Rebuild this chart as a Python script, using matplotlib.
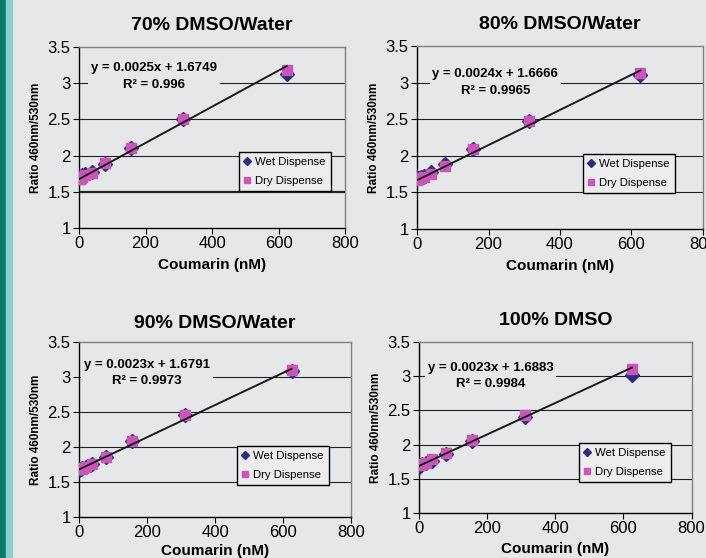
import numpy as np
import matplotlib
matplotlib.use('Agg')
import matplotlib.pyplot as plt
from matplotlib.patches import Rectangle

plt.rcParams['font.family'] = ['Liberation Sans', 'DejaVu Sans']

# coumarin dilution series (nM)
conc = [0, 2.4, 4.9, 9.8, 19.5, 39, 78, 156, 312, 625]

titles = ['70% DMSO/Water', '80% DMSO/Water', '90% DMSO/Water', '100% DMSO']

wet_70 = [1.70, 1.70, 1.71, 1.73, 1.74, 1.77, 1.89, 2.11, 2.51, 3.13]
dry_70 = [1.67, 1.68, 1.69, 1.71, 1.73, 1.76, 1.90, 2.10, 2.51, 3.18]
wet_80 = [1.69, 1.69, 1.70, 1.71, 1.72, 1.78, 1.89, 2.09, 2.47, 3.10]
dry_80 = [1.67, 1.68, 1.68, 1.70, 1.71, 1.75, 1.86, 2.09, 2.47, 3.13]
wet_90 = [1.67, 1.68, 1.69, 1.70, 1.72, 1.75, 1.85, 2.08, 2.45, 3.09]
dry_90 = [1.68, 1.68, 1.69, 1.70, 1.71, 1.75, 1.85, 2.08, 2.46, 3.10]
wet_100 = [1.68, 1.69, 1.70, 1.71, 1.73, 1.76, 1.86, 2.06, 2.41, 3.02]
dry_100 = [1.70, 1.70, 1.71, 1.72, 1.73, 1.79, 1.88, 2.07, 2.44, 3.10]

slopes = [0.0025, 0.0024, 0.0023, 0.0023]
intercepts = [1.6749, 1.6666, 1.6791, 1.6883]
r2 = ['0.996', '0.9965', '0.9973', '0.9984']

wet_all = [wet_70, wet_80, wet_90, wet_100]
dry_all = [dry_70, dry_80, dry_90, dry_100]

bg = '#e6e7e9'
wet_col = '#2b2b82'
dry_col = '#cc55b8'

# axes rectangles, text and legend placement (figure / axes fractions)
rects = [(0.1119, 0.5914, 0.3768, 0.3244),
         (0.5907, 0.5896, 0.4050, 0.3280),
         (0.1119, 0.0735, 0.3853, 0.3136),
         (0.5935, 0.0806, 0.3860, 0.3065)]
eq_pos = [(0.282, 0.837), (0.274, 0.80), (0.25, 0.823), (0.262, 0.80)]
leg_pos = [(0.947, 0.204), (0.902, 0.197), (0.919, 0.183), (0.924, 0.181)]
title_pad = [12, 12, 10, 12]
xlab_pad = [5, 5, 3, 4]

fig = plt.figure(figsize=(7.06, 5.58), dpi=100, facecolor=bg)
fig.patches.append(Rectangle((0, 0), 6 / 706, 1, transform=fig.transFigure,
                             color='#0a7a6a', zorder=0))
fig.patches.append(Rectangle((6 / 706, 0), 6 / 706, 1, transform=fig.transFigure,
                             color='#8ccfcf', zorder=0))

for i in range(4):
    ax = fig.add_axes(rects[i])
    ax.set_facecolor(bg)
    ax.set_xlim(0, 800)
    ax.set_ylim(1, 3.5)
    ax.set_xticks([0, 200, 400, 600, 800])
    ax.set_yticks([1, 1.5, 2, 2.5, 3, 3.5])
    ax.set_yticklabels(['1', '1.5', '2', '2.5', '3', '3.5'])
    ax.tick_params(labelsize=12, length=4, width=0.8, color='black', pad=2)
    for y in [1.5, 2, 2.5, 3]:
        lw = 1.6 if (i == 0 and y == 1.5) else 0.8
        ax.axhline(y, color='#222222', lw=lw, zorder=1)
    for s in ['top', 'right']:
        ax.spines[s].set_color('#808080')
        ax.spines[s].set_linewidth(1.0)
    for s in ['left', 'bottom']:
        ax.spines[s].set_color('black')
        ax.spines[s].set_linewidth(1.0)

    ax.plot(conc, wet_all[i], 'D', color=wet_col, ms=7.5, mec=wet_col,
            label='Wet Dispense', zorder=3)
    ax.plot(conc, dry_all[i], 's', color=dry_col, ms=6.5, mec=dry_col,
            label='Dry Dispense', zorder=4)
    xf = np.array([0, 625])
    ax.plot(xf, slopes[i] * xf + intercepts[i], color='#1a1a1a', lw=1.4, zorder=5)

    ax.text(eq_pos[i][0], eq_pos[i][1],
            'y = %.4fx + %.4f\nR\u00b2 = %s' % (slopes[i], intercepts[i], r2[i]),
            transform=ax.transAxes, ha='center', va='center', fontsize=9.5,
            fontweight='bold', linespacing=1.5, zorder=6,
            bbox=dict(facecolor=bg, edgecolor='none', pad=2))

    leg = ax.legend(loc='lower right', bbox_to_anchor=leg_pos[i], fontsize=8.2,
                    frameon=True, fancybox=False, borderpad=0.45,
                    handlelength=0.6, handletextpad=0.4, labelspacing=0.8,
                    markerscale=0.6, borderaxespad=0)
    leg.get_frame().set_edgecolor('black')
    leg.get_frame().set_facecolor('#ededee')
    leg.get_frame().set_alpha(1)
    leg.get_frame().set_linewidth(1.0)
    leg.set_zorder(7)

    ax.set_title(titles[i], fontsize=14, fontweight='bold', pad=title_pad[i])
    ax.set_xlabel('Coumarin (nM)', fontsize=11, fontweight='bold',
                  labelpad=xlab_pad[i])
    ax.set_ylabel('Ratio 460nm/530nm', fontsize=8.5, fontweight='bold', labelpad=4)

fig.savefig('out.png', dpi=100, facecolor=bg)
